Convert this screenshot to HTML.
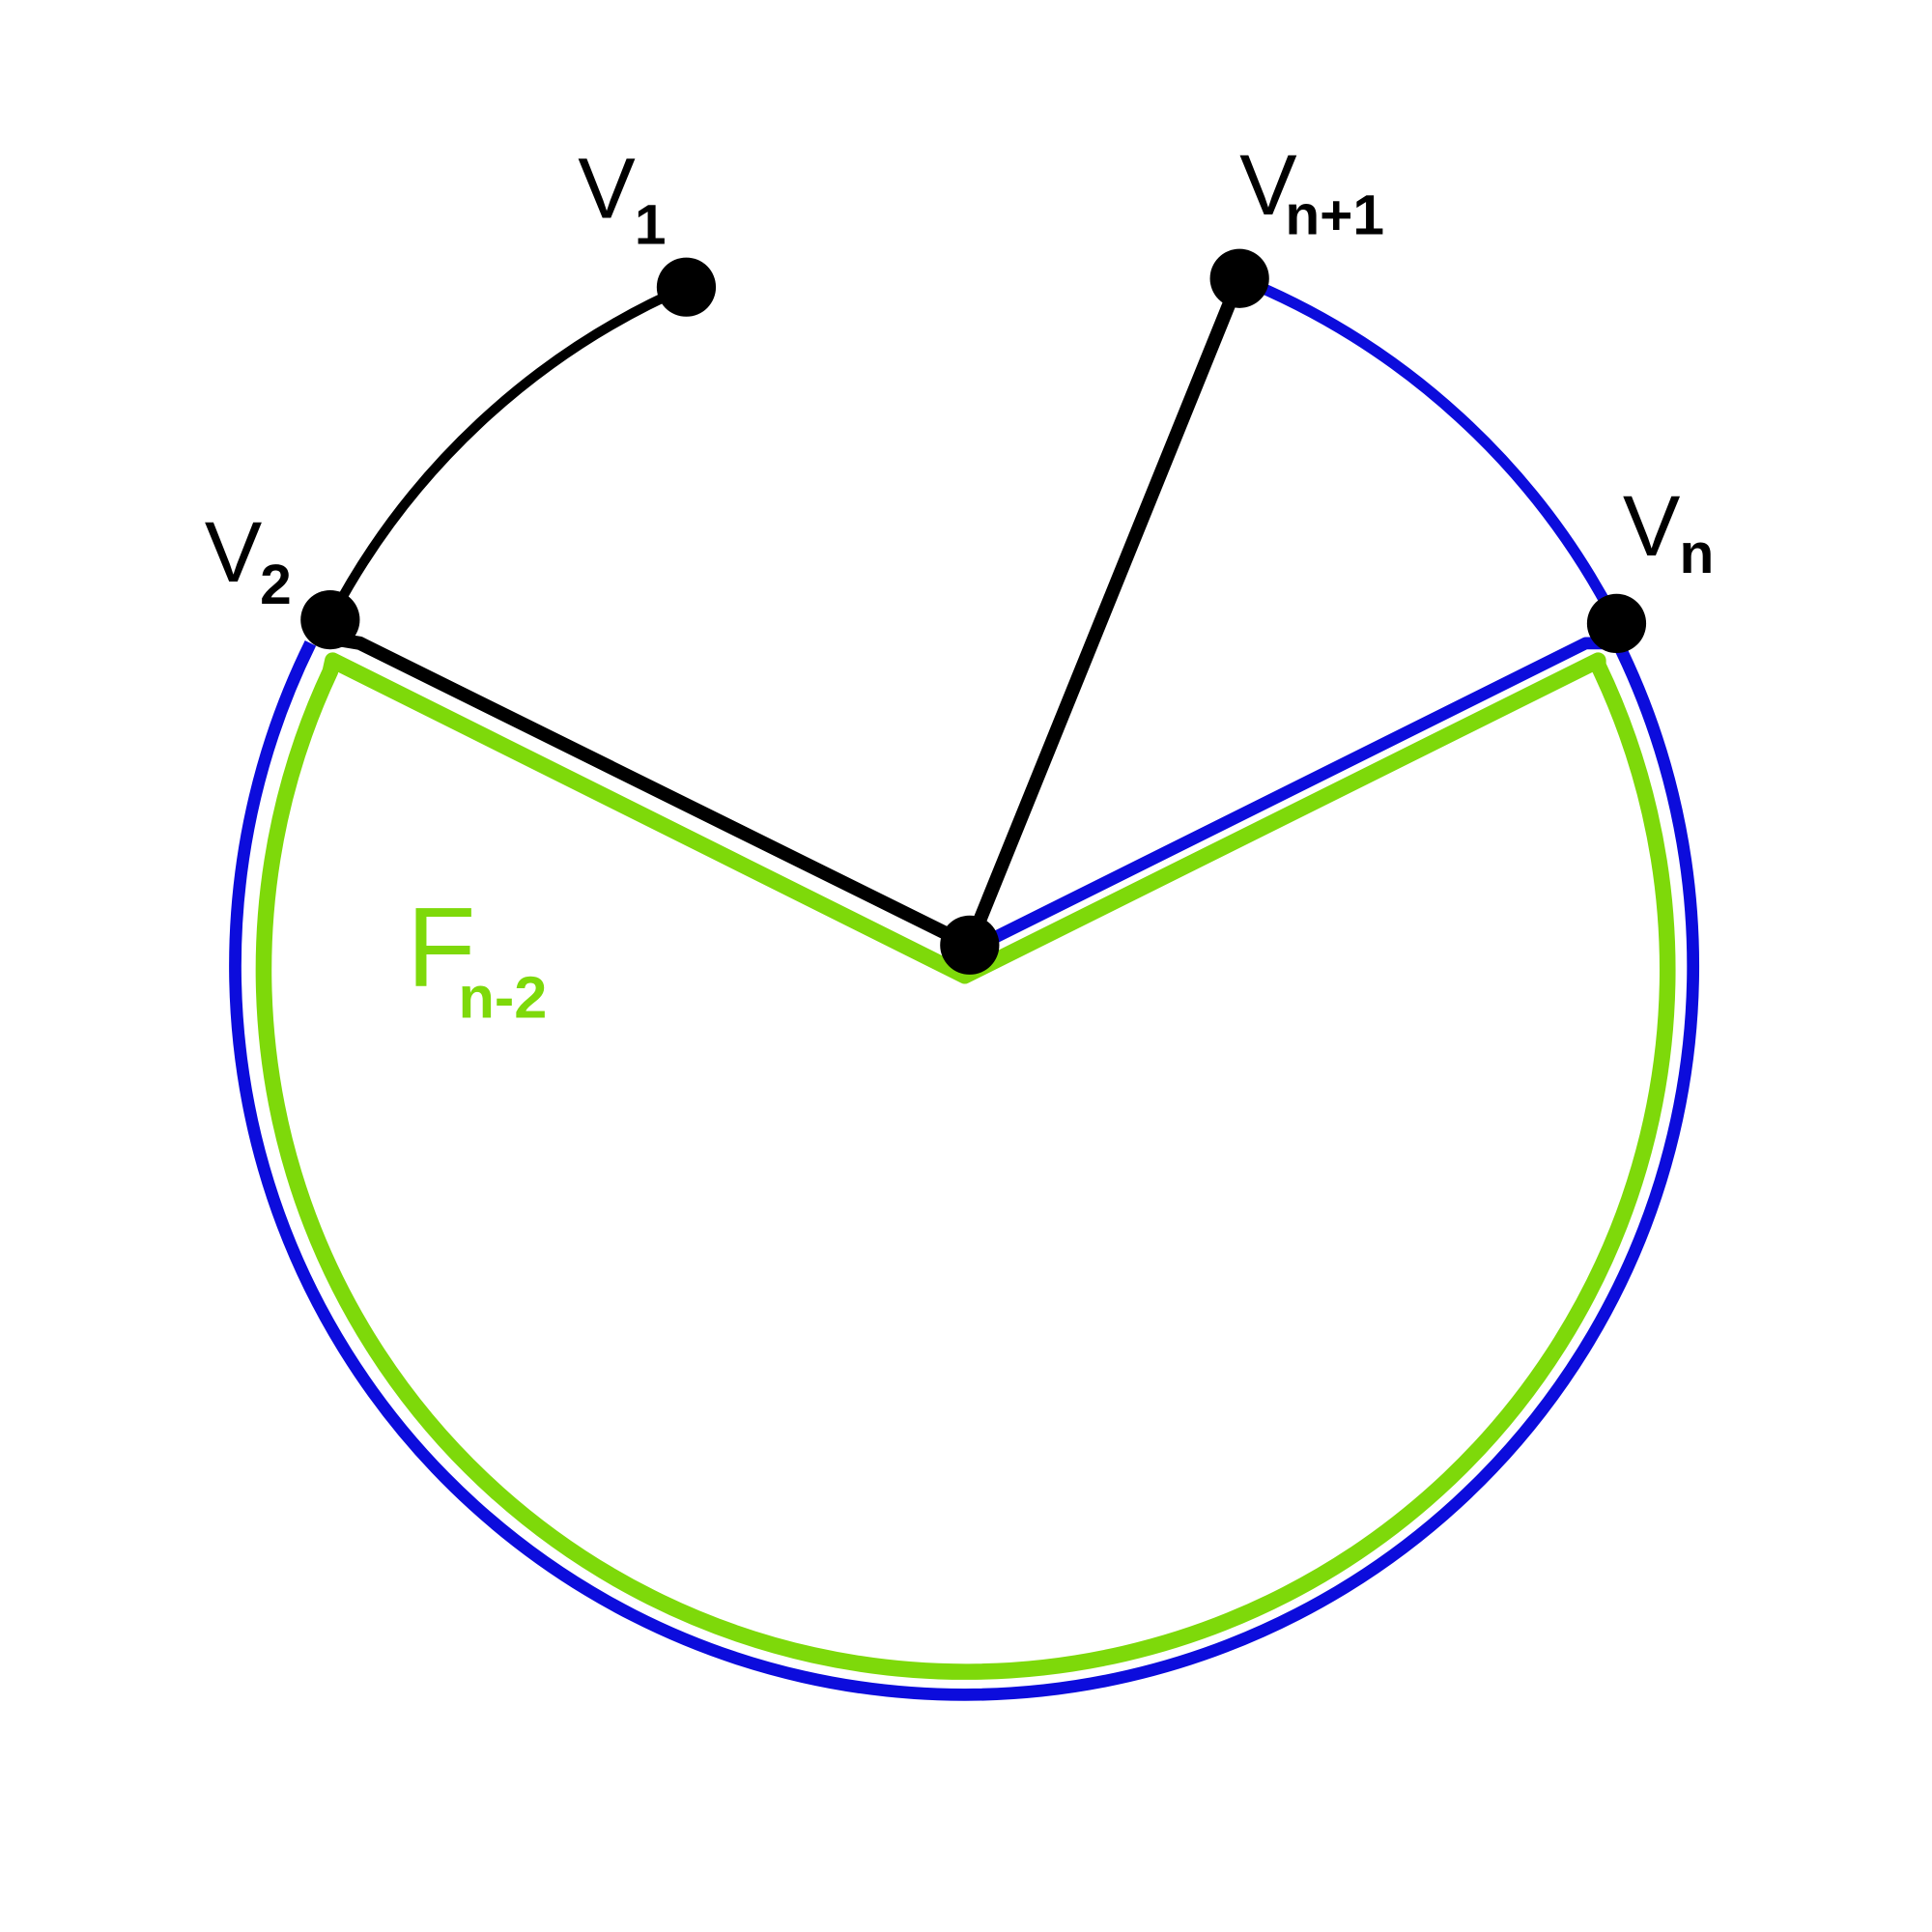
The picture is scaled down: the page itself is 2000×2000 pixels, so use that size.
<!DOCTYPE html>
<html><head><meta charset="utf-8"><style>
html,body{margin:0;padding:0;background:#fff;}
svg{display:block;}
text{font-family:"Liberation Sans",sans-serif;}
</style></head><body>
<svg width="2000" height="2000" viewBox="0 0 1568 1568">
<g fill="none" stroke-linejoin="round" stroke-linecap="butt">
<path d="M252,522 A591.6,591.6 0 1 0 1312,520" stroke="#0c0cdc" stroke-width="10"/>
<path d="M1006,226 A593,593 0 0 1 1312,506" stroke="#0c0cdc" stroke-width="9"/>
<path d="M795,767 L1287,522 L1312,522" stroke="#0c0cdc" stroke-width="10"/>
<path d="M783,792 L270,536 L268,545 A569.7,569.7 0 1 0 1297,540 L1297,536 Z" stroke="#7ed90a" stroke-width="13"/>
<path d="M268,503 A593,593 0 0 1 557,233" stroke="#000" stroke-width="8"/>
<path d="M268,518 L292,522 L787,767" stroke="#000" stroke-width="11"/>
<path d="M1006,226 L787,767" stroke="#000" stroke-width="11"/>
</g>
<g fill="#000">
<circle cx="557" cy="233" r="24"/>
<circle cx="1006" cy="226" r="24"/>
<circle cx="268" cy="503" r="24"/>
<circle cx="1312" cy="506" r="24"/>
<circle cx="787" cy="767" r="24"/>
</g>
<text x="469" y="177" font-size="70">V</text>
<text x="515" y="198" font-size="46" font-weight="bold">1</text>
<text x="166" y="472" font-size="70">V</text>
<text x="211" y="490" font-size="46" font-weight="bold">2</text>
<text x="1006" y="174" font-size="70">V</text>
<text x="1043" y="190" font-size="46" font-weight="bold">n+1</text>
<text x="1317" y="451" font-size="70">V</text>
<text x="1363" y="465" font-size="46" font-weight="bold">n</text>
<text x="330" y="800" font-size="92" fill="#7ed90a">F</text>
<text x="372" y="826" font-size="48" font-weight="bold" fill="#7ed90a">n-2</text>
</svg>
</body></html>
